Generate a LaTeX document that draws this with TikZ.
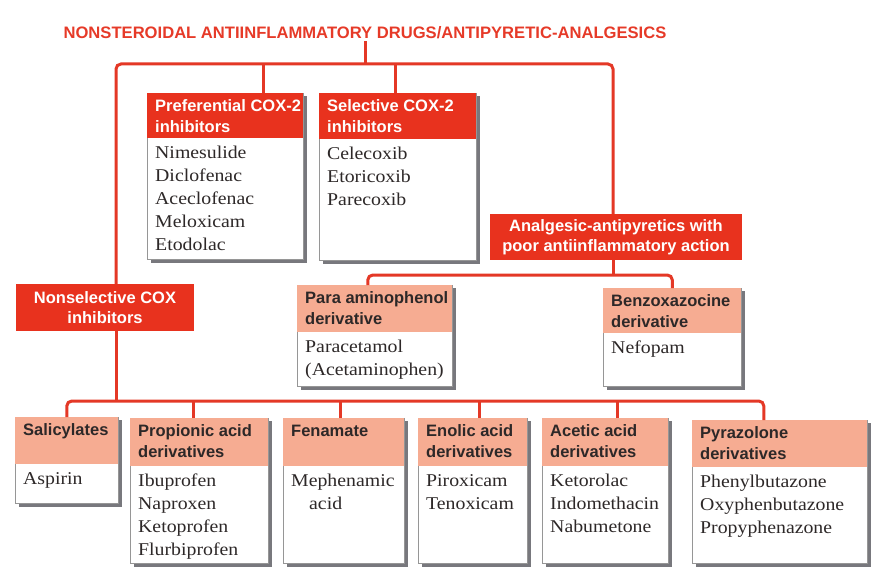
\documentclass[tikz,border=0pt]{standalone}
\usepackage{fontspec}
\setmainfont{Liberation Serif}[FakeStretch=1.1]
\setsansfont{Liberation Sans}
\usetikzlibrary{calc}
\definecolor{nred}{RGB}{232,50,30}
\definecolor{nsal}{RGB}{246,172,146}
\definecolor{nshadow}{RGB}{120,120,125}
\definecolor{nline}{RGB}{228,56,38}
\definecolor{nborder}{RGB}{150,150,150}
\definecolor{ntitle}{RGB}{230,58,40}
\definecolor{nink}{RGB}{45,40,40}
\newcommand\ptext[1]{\parbox[t]{200pt}{\raggedright #1}}
\newcommand\catbox[9]{%
  \pgfmathsetmacro\cbw{#4-#2}%
  \pgfmathsetmacro\cbh{#5-#3}%
  \pgfmathsetmacro\cbhh{#6-#3}%
  \fill[nshadow] (#2+3.5,#3+3) rectangle (#4+3.5,#5+3.5);
  \node[boxbody, minimum width=\cbw pt, minimum height=\cbh pt, anchor=north west] (#1) at (#2,#3) {};
  \node[#7, minimum width=\cbw pt, minimum height=\cbhh pt, anchor=north west] (#1-h) at (#2,#3) {};
  \node[#7text, anchor=base west] (#1-ht) at (#2+8,#3+18.5) {\ptext{#8}};
  \node[btext, anchor=base west] (#1-bt) at (#2+8,#6+20) {\ptext{#9}};
}
\tikzset{
  conn/.style={draw=nline, line width=3pt},
  boxbody/.style={draw=nborder, line width=0.6pt, fill=white, inner sep=0pt},
  hred/.style={fill=nred, inner sep=0pt},
  hsal/.style={fill=nsal, inner sep=0pt},
  hredtext/.style={text=white, font=\sffamily\bfseries\fontsize{16.5}{21}\selectfont, inner sep=0pt},
  hsaltext/.style={text=nink, font=\sffamily\bfseries\fontsize{16.5}{21}\selectfont, inner sep=0pt},
  btext/.style={text=nink, font=\fontsize{18}{23}\selectfont, inner sep=0pt},
  mainred/.style={fill=nred, text=white, font=\sffamily\bfseries\fontsize{16.5}{20.5}\selectfont, align=center, inner sep=0pt},
  titlestyle/.style={text=ntitle, font=\sffamily\bfseries\fontsize{16.6}{20}\selectfont, inner sep=2pt},
}
\begin{document}
\begin{tikzpicture}[x=1pt, y=-1pt]
\useasboundingbox (0,0) rectangle (877,567);
\node[titlestyle] (title) at (365,33) {NONSTEROIDAL ANTIINFLAMMATORY DRUGS/ANTIPYRETIC-ANALGESICS};

\node[mainred, minimum width=178pt, minimum height=47pt] (nonsel) at (105,307.5) {Nonselective COX\\inhibitors};
\node[mainred, minimum width=252pt, minimum height=46pt] (analg) at (616,237) {Analgesic-antipyretics with\\poor antiinflammatory action};

\catbox{pref}{147}{93}{303}{259}{138}{hred}{Preferential COX-2\\inhibitors}{Nimesulide\\Diclofenac\\Aceclofenac\\Meloxicam\\Etodolac}
\catbox{sel}{319}{93}{476}{260}{139}{hred}{Selective COX-2\\inhibitors}{Celecoxib\\Etoricoxib\\Parecoxib}
\catbox{para}{297}{285}{452}{386}{332}{hsal}{Para aminophenol\\derivative}{Paracetamol\\(Acetaminophen)}
\catbox{benzo}{603}{288}{741}{386}{333}{hsal}{Benzoxazocine\\derivative}{Nefopam}
\catbox{sal}{15}{417}{118}{503}{464}{hsal}{Salicylates}{Aspirin}
\catbox{prop}{130}{418}{268}{563}{466}{hsal}{Propionic acid\\derivatives}{Ibuprofen\\Naproxen\\Ketoprofen\\Flurbiprofen}
\catbox{fen}{283}{418}{404}{563}{466}{hsal}{Fenamate}{Mephenamic\\\hspace*{1em}acid}
\catbox{enol}{418}{418}{527}{563}{466}{hsal}{Enolic acid\\derivatives}{Piroxicam\\Tenoxicam}
\catbox{acet}{542}{418}{668}{563}{466}{hsal}{Acetic acid\\derivatives}{Ketorolac\\Indomethacin\\Nabumetone}
\catbox{pyr}{692}{420}{867}{563}{467}{hsal}{Pyrazolone\\derivatives}{Phenylbutazone\\Oxyphenbutazone\\Propyphenazone}

% top level connectors
\coordinate (tj) at (365,64);
\draw[conn] (title.south) -- (tj);
\draw[conn, rounded corners=5pt] ([xshift=11pt]nonsel.north) |- (tj) -| ([xshift=-3pt]analg.north);
\coordinate (dpref) at ($(pref.north)+(38,0)$);
\draw[conn] (dpref) -- (dpref |- tj);
\coordinate (dsel) at ($(sel.north)+(-2,0)$);
\draw[conn] (dsel) -- (dsel |- tj);

% analgesic connectors
\coordinate (aj) at (613,275);
\draw[conn] ([xshift=-3pt]analg.south) -- (aj);
\draw[conn, rounded corners=5pt] ([xshift=-7pt]para.north) |- (aj) -| (benzo.north);

% nonselective connectors
\coordinate (nsj) at (116,401);
\draw[conn] ([xshift=11pt]nonsel.south) -- (nsj);
\draw[conn, rounded corners=5pt] (sal.north) |- (nsj) -| ([xshift=-16pt]pyr.north);
\coordinate (dprop) at ($(prop.north)+(-6,0)$);
\draw[conn] (dprop) -- (dprop |- nsj);
\coordinate (dfen) at ($(fen.north)+(-3,0)$);
\draw[conn] (dfen) -- (dfen |- nsj);
\coordinate (denol) at ($(enol.north)+(7,0)$);
\draw[conn] (denol) -- (denol |- nsj);
\coordinate (dacet) at ($(acet.north)+(12,0)$);
\draw[conn] (dacet) -- (dacet |- nsj);
\end{tikzpicture}
\end{document}
